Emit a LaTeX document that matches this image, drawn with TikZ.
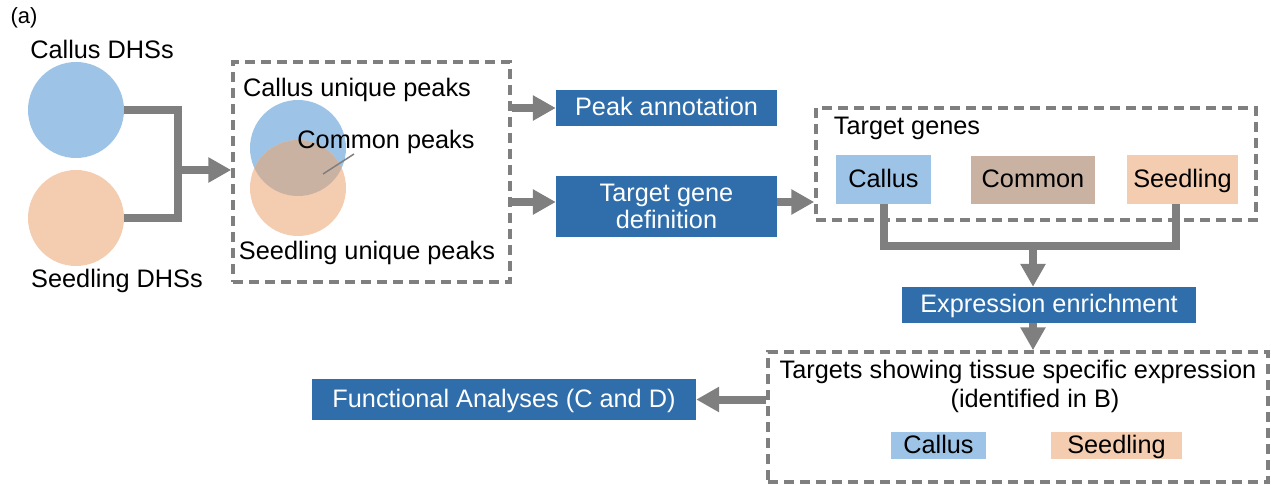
\documentclass[tikz,border=0pt]{standalone}
\usepackage{fontspec}
\setmainfont{Liberation Sans}
\usetikzlibrary{arrows.meta}
\definecolor{lgray}{HTML}{7F7F7F}
\definecolor{dblue}{HTML}{2F6EAB}
\definecolor{lblue}{HTML}{9DC3E6}
\definecolor{peach}{HTML}{F4CCB0}
\definecolor{brownc}{HTML}{CAB2A3}
\begin{document}
\begin{tikzpicture}[x=1pt,y=-1pt,
  every node/.style={font=\fontsize{25.3}{27}\selectfont, inner sep=0pt},
  thickline/.style={draw=lgray, line width=8pt, line join=miter},
  garrow/.style={thickline, -{Triangle[length=23pt,width=24pt]}},
  dbox/.style={draw=lgray, line width=3.5pt, dash pattern=on 10pt off 6pt},
  tbox/.style={text height=19.5pt, text depth=4pt},
  bluebox/.style={tbox, fill=dblue, text=white},
  lbbox/.style={tbox, fill=lblue},
  pbox/.style={tbox, fill=peach},
  cbox/.style={tbox, fill=brownc},
  vcirc/.style={circle, minimum size=96pt}]
\useasboundingbox (0,0) rectangle (1271,485);

% label
\node[anchor=base, font=\fontsize{22}{24}\selectfont] (lbl) at (24,23) {(a)};

% DHS circles
\node[anchor=base] (tcd) at (102,58) {Callus DHSs};
\node[vcirc, fill=lblue] (c1) at (76,110) {};
\node[vcirc, fill=peach] (c2) at (76,218) {};
\node[anchor=base] (tsd) at (117,287) {Seedling DHSs};

\coordinate (jt) at (178,110);
\coordinate (jb) at (178,218);
\coordinate (jm) at (178,170);
\draw[thickline] (c1.east) -- (jt) -- (jb) -- (c2.east);

% box 1
\node[dbox, minimum width=277pt, minimum height=220pt] (box1) at (371.5,172) {};
\draw[garrow] (jm) -- (jm -| box1.west);
\node[anchor=base] (tcu) at (357,96) {Callus unique peaks};
\node[vcirc, fill=lblue] (v1) at (298,148) {};
\node[vcirc, fill=peach] (v2) at (298,188) {};
\begin{scope}
  \clip (v1.center) circle (48pt);
  \fill[brownc] (v2.center) circle (48pt);
\end{scope}
\coordinate (pa1) at (354,154);
\coordinate (pa2) at (323,174);
\draw[lgray, line width=1.5pt] (pa1) -- (pa2);
\node[anchor=base] (tcp) at (386,148) {Common peaks};
\node[anchor=base] (tsu) at (367,259) {Seedling unique peaks};

% middle boxes
\node[bluebox, minimum width=221pt, minimum height=36pt] (pa) at (666.5,108) {Peak annotation};
\node[fill=dblue, text=white, minimum width=221pt, minimum height=61pt, align=center] (tgd) at (666.5,206.5) {Target gene\\definition};
\draw[garrow] (box1.east |- pa) -- (pa.west);
\draw[garrow] ([yshift=4.5pt]tgd.west -| box1.east) -- ([yshift=4.5pt]tgd.west);

% box 3
\node[dbox, minimum width=440pt, minimum height=112pt] (box3) at (1036,164) {};
\draw[garrow] ([yshift=4.5pt]tgd.east) -- ([yshift=4.5pt]tgd.east -| box3.west);
\node[anchor=base] (ttg) at (907,134) {Target genes};
\node[lbbox, minimum width=95pt, minimum height=49pt] (cg) at (883.5,179.5) {Callus};
\node[cbox, minimum width=124pt, minimum height=48pt] (mg) at (1033,180) {Common};
\node[pbox, minimum width=111pt, minimum height=49pt] (sg) at (1182.5,179.5) {Seedling};

\coordinate (barL) at (883.5,246);
\coordinate (barR) at (1176,246);
\coordinate (barM) at (1033,246);
\draw[thickline] (cg.south) -- (barL) -- (barR) -- (barR |- sg.south);

\node[bluebox, minimum width=294pt, minimum height=36pt] (ee) at (1049,305) {Expression enrichment};
\draw[garrow] (barM) -- (barM |- ee.north);

% box 4
\node[dbox, minimum width=500pt, minimum height=130pt] (box4) at (1018,417) {};
\draw[garrow] (barM |- ee.south) -- (barM |- box4.north);
\node[anchor=base] (tts) at (1018,378) {Targets showing tissue specific expression};
\node[anchor=base] (tib) at (1035,407) {(identified in B)};
\node[lbbox, minimum width=95pt, minimum height=27pt] (ct) at (938.5,445.5) {Callus};
\node[pbox, minimum width=131pt, minimum height=27pt] (st) at (1116.5,445.5) {Seedling};

\node[bluebox, minimum width=384pt, minimum height=41pt] (fa) at (504,399.5) {Functional Analyses (C and D)};
\draw[garrow] (box4.west |- fa) -- (fa.east);
\end{tikzpicture}
\end{document}
